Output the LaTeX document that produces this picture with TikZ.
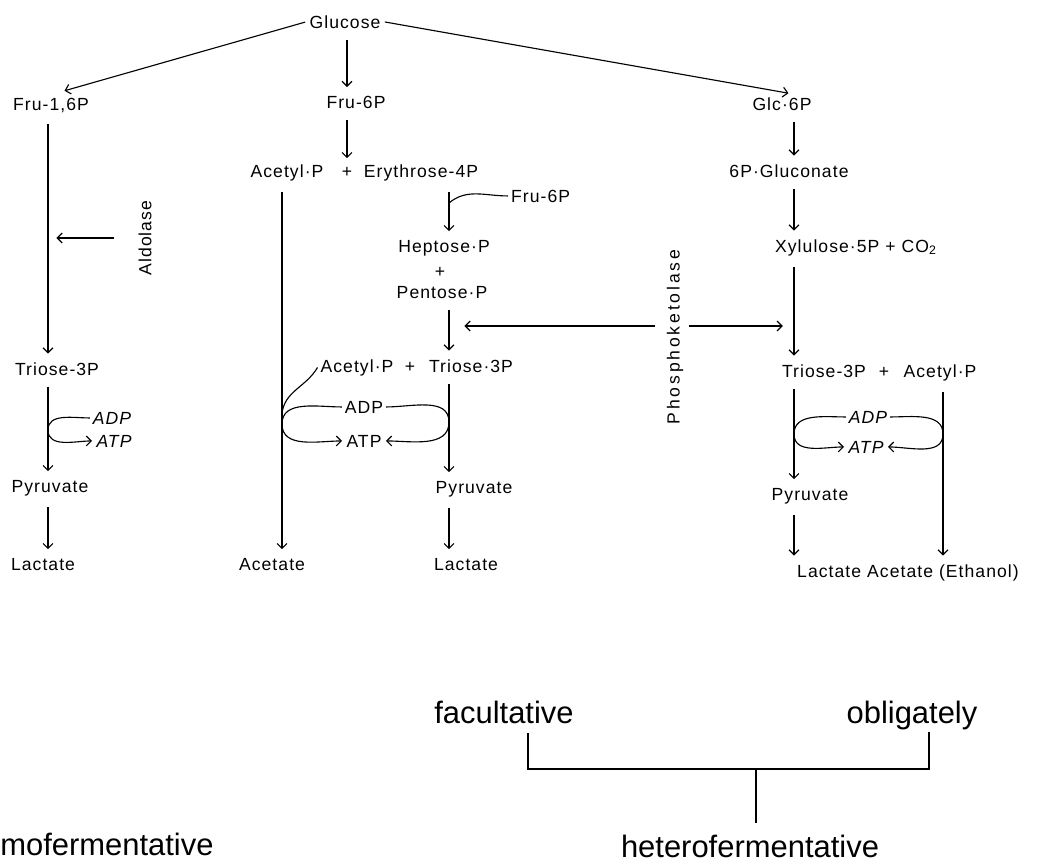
\documentclass[tikz,border=0pt]{standalone}
\usepackage{fontspec}
\newfontfamily\chemfont[LetterSpace=6]{Liberation Sans}
\newfontfamily\widefont[LetterSpace=16]{Liberation Sans}
\newfontfamily\classfont{Liberation Sans}
\usetikzlibrary{arrows.meta}
\tikzstyle{metabolite}=[font=\chemfont\fontsize{12.5}{14}\selectfont, inner sep=2pt, anchor=base]
\tikzstyle{cofactor}=[metabolite, font=\chemfont\itshape\fontsize{12.5}{14}\selectfont]
\tikzstyle{enzyme}=[font=\chemfont\fontsize{12.5}{14}\selectfont, inner sep=2pt, rotate=90]
\tikzstyle{group}=[font=\classfont\fontsize{22}{26}\selectfont, inner sep=0pt, anchor=base]
\tikzstyle{flow}=[draw, line width=0.8pt, ->, shorten <=6pt, shorten >=4pt]
\tikzstyle{link}=[draw, line width=0.8pt, -]

\begin{document}
\begin{tikzpicture}[x=0.025cm, y=-0.025cm, >={Straight Barb[length=3.5pt, width=7pt]}]
		\useasboundingbox (0,0) rectangle (1039,864);
		% columns and join points
		\coordinate (lcol) at (48,0);
		\coordinate (acol) at (282,0);
		\coordinate (mcol) at (347,0);
		\coordinate (ecol) at (449,0);
		\coordinate (rcol) at (794,0);
		\coordinate (xcol) at (943,0);
		\coordinate (pkrow) at (0,326);
		\coordinate (eryjoin) at (449,203);
		\coordinate (acjoin) at (282,414);
		\coordinate (loopL) at (48,430);
		\coordinate (loopML) at (282,424);
		\coordinate (loopMR) at (449,422);
		\coordinate (loopRL) at (794,434);
		\coordinate (loopRR) at (943,434);
		
		% First we draw the metabolites
		\foreach \pos/\label/\name in {
			{(345,28)/glucose/Glucose}, {(51,110)/fru16/Fru-1,6P},
			{(356,108)/fru6/Fru-6P}, {(782,110)/glc6/Glc·6P},
			{(287,177)/acetylA/Acetyl·P}, {(347,177)/plusA/+}, {(421,177)/ery/Erythrose-4P},
			{(789,177)/gluconate/6P·Gluconate},
			{(444,252)/heptose/Heptose·P}, {(440,277)/plusB/+}, {(442,298)/pentose/Pentose·P},
			{(57,375)/trioseL/Triose-3P},
			{(357,372)/acetylB/Acetyl·P}, {(410,372)/plusC/+}, {(471,372)/trioseM/Triose·3P},
			{(824,377)/trioseR/Triose-3P}, {(884,377)/plusD/+}, {(940,377)/acetylR/Acetyl·P},
			{(50,492)/pyrL/Pyruvate}, {(474,493)/pyrM/Pyruvate}, {(810,500)/pyrR/Pyruvate},
			{(43,570)/lacL/Lactate}, {(272,570)/acetate/Acetate}, {(466,570)/lacM/Lactate},
			{(908,577)/products/Lactate Acetate (Ethanol)}}
		\node[metabolite] (\label) at \pos{\name};
		
		\node[metabolite, anchor=base west] (fru6b) at (508,202) {Fru-6P};
		\node[metabolite, anchor=base west] (xylulose) at (772,252) {Xylulose·5P + CO\textsubscript{2}};
		
		\foreach \pos/\label/\name in {
			{(112,424)/ADPL/ADP}, {(114,447)/ATPL/ATP},
			{(868,423)/ADPR/ADP}, {(866,453)/ATPR/ATP}}
		\node[cofactor] (\label) at \pos{\name};
		
		\foreach \pos/\label/\name in {{(364,413)/ADPM/ADP}, {(364,447)/ATPM/ATP}}
		\node[metabolite] (\label) at \pos{\name};
		
		\node[enzyme] (aldolase) at (145,238) {Aldolase};
		\node[enzyme, font=\widefont\fontsize{12.5}{14}\selectfont] (phospho) at (675,337) {Phosphoketolase};
		
		% fermentation types
		\node[group] (facult) at (504,723) {facultative};
		\node[group] (oblig) at (912,723) {obligately};
		\node[group] (hetero) at (750,857) {heterofermentative};
		\node[group, anchor=base west] (homo) at (0,855) {mofermentative};
		
		% Connect metabolites with arrows
		\foreach \source/\dest/\col in {
			fru16/trioseL/lcol, trioseL/pyrL/lcol, pyrL/lacL/lcol,
			glucose/fru6/mcol, fru6/plusA/mcol, acetylA/acetate/acol,
			ery/heptose/ecol, pentose/trioseM/ecol, trioseM/pyrM/ecol, pyrM/lacM/ecol,
			glc6/gluconate/rcol, gluconate/xylulose/rcol, xylulose/trioseR/rcol,
			trioseR/pyrR/rcol, pyrR/products/rcol, acetylR/products/xcol}
		\path[flow] (\source.south -| \col) -- (\dest.north -| \col);
		
		\path[flow, shorten <=1pt, shorten >=10pt] (glucose.west) -- (fru16.north);
		\path[flow, shorten <=1pt] (glucose.east) -- (glc6.north -| rcol);
		
		% enzymes
		\path[flow, shorten <=15pt, shorten >=6pt] (aldolase.north) -- (aldolase.north -| lcol);
		\path[flow, shorten <=6pt, shorten >=11pt] (phospho.north |- pkrow) -- (ecol |- pkrow);
		\path[flow, shorten <=2pt, shorten >=8pt] (phospho.south |- pkrow) -- (rcol |- pkrow);
		
		% side branches
		\path[link] (fru6b.west) to[out=180, in=40] (eryjoin);
		\path[link] (acetylB.west) to[out=-120, in=85] (acjoin);
		
		% ADP / ATP loops
		\path[link] (ADPL.west) to[out=180, in=90] (loopL);
		\path[flow, shorten <=0pt, shorten >=1pt] (loopL) to[out=-90, in=180] (ATPL.west);
		\path[link] (ADPM.west) to[out=180, in=90] (loopML);
		\path[link] (ADPM.east) to[out=0, in=90] (loopMR);
		\path[flow, shorten <=0pt, shorten >=1pt] (loopML) to[out=-90, in=180] (ATPM.west);
		\path[flow, shorten <=0pt, shorten >=1pt] (loopMR) to[out=-90, in=0] (ATPM.east);
		\path[link] (ADPR.west) to[out=180, in=90] (loopRL);
		\path[link] (ADPR.east) to[out=0, in=90] (loopRR);
		\path[flow, shorten <=0pt, shorten >=1pt] (loopRL) to[out=-90, in=180] (ATPR.west);
		\path[flow, shorten <=0pt, shorten >=1pt] (loopRR) to[out=-90, in=0] (ATPR.east);
		
		% bracket
		\coordinate (brL) at (528,769);
		\coordinate (brR) at (929,769);
		\coordinate (brM) at (756,769);
		\path[link, shorten <=7pt, shorten >=1.5pt] (facult.south -| brL) -- (brL) -- (brR) -- (oblig.south -| brR);
		\path[link, shorten >=8pt] (brM) -- (hetero.north -| brM);
		\end{tikzpicture}
\end{document}
